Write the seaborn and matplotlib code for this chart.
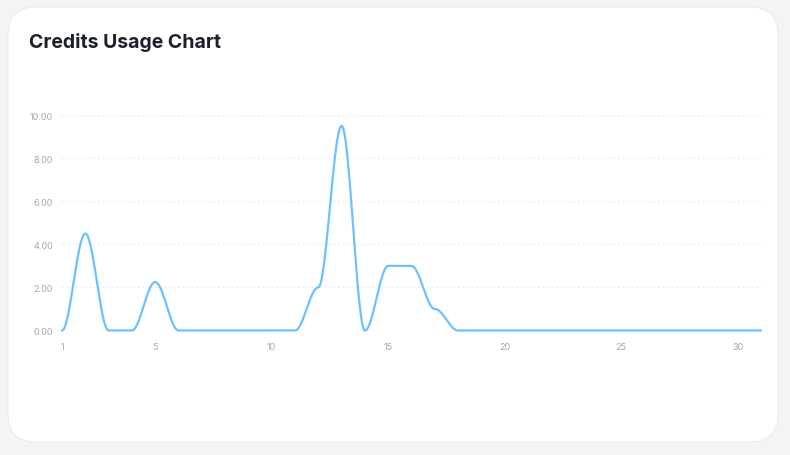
import matplotlib
matplotlib.use("Agg")
import matplotlib.pyplot as plt
from matplotlib.patches import FancyBboxPatch
import numpy as np
import pandas as pd
import seaborn as sns

# daily credit usage for the month
days = list(range(1, 32))
credits = [0, 4.5, 0, 0, 2.25, 0, 0, 0, 0, 0,
           0, 2, 9.5, 0, 3, 3, 1, 0, 0, 0,
           0, 0, 0, 0, 0, 0, 0, 0, 0, 0, 0]
x_ticks = [1, 5, 10, 15, 20, 25, 30]
y_ticks = [0, 2, 4, 6, 8, 10]
title = "Credits Usage Chart"

LINE = "#6fc0fb"
TEXT = "#1c1f2e"
MUTED = "#a3a9b6"


def smooth_path(xs, ys, n=40, k=0.35):
    # bezier segments with flat tangents at every point
    out_x, out_y = [], []
    t = np.linspace(0, 1, n)
    for i in range(len(xs) - 1):
        x0, x1 = xs[i], xs[i + 1]
        y0, y1 = ys[i], ys[i + 1]
        L = (x1 - x0) * k
        px = [x0, x0 + L, x1 - L, x1]
        py = [y0, y0, y1, y1]
        b = [(1 - t) ** 3, 3 * (1 - t) ** 2 * t, 3 * (1 - t) * t ** 2, t ** 3]
        out_x.extend(sum(bi * p for bi, p in zip(b, px)))
        out_y.extend(sum(bi * p for bi, p in zip(b, py)))
    return np.array(out_x), np.array(out_y)


sns.set_style("white")
plt.rcParams["font.family"] = ["Inter", "DejaVu Sans"]

fig = plt.figure(figsize=(7.9, 4.56), dpi=100)
fig.patch.set_facecolor("#f3f4f6")

card = FancyBboxPatch((8 / 790, 13 / 456), 770 / 790, 435 / 456,
                      boxstyle="round,pad=0,rounding_size=0.035",
                      transform=fig.transFigure, facecolor="white",
                      edgecolor="#e8eaee", linewidth=0.8, zorder=-10,
                      mutation_aspect=790 / 456)
fig.patches.append(card)

fig.text(29 / 790, 1 - 42 / 456, title, fontsize=14, fontweight="bold",
         color=TEXT, va="center", ha="left")

ax = fig.add_axes([62 / 790, 124.5 / 456, 699 / 790, 215.5 / 456])
ax.set_facecolor("none")

sx, sy = smooth_path(days, credits)
df = pd.DataFrame({"day": sx, "credits": sy})
sns.lineplot(data=df, x="day", y="credits", ax=ax, color=LINE,
             linewidth=1.6, sort=False, estimator=None, clip_on=False)

ax.set_xlim(1, 31)
ax.set_ylim(0, 10)
ax.set_xticks(x_ticks)
ax.set_xticklabels([str(v) for v in x_ticks])
ax.set_yticks(y_ticks)
ax.set_yticklabels([f"{v:.2f}" for v in y_ticks])
ax.tick_params(axis="both", length=0, labelsize=6.5, labelcolor=MUTED)
ax.tick_params(axis="y", pad=6.5)
ax.tick_params(axis="x", pad=8)
ax.yaxis.grid(True, color="#e6e8ec", linestyle=(0, (1.5, 2.5)), linewidth=0.8)
ax.xaxis.grid(False)
ax.set_axisbelow(True)
ax.set_xlabel("")
ax.set_ylabel("")
sns.despine(ax=ax, left=True, bottom=True)

fig.savefig("out.png", dpi=100, facecolor=fig.get_facecolor())
